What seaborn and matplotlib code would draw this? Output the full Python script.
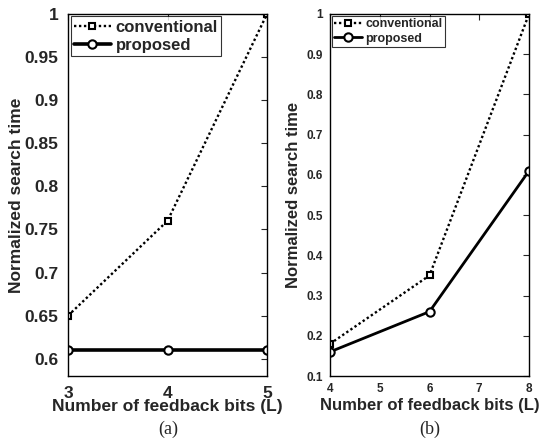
import numpy as np
import pandas as pd
import matplotlib
matplotlib.use("Agg")
import matplotlib.pyplot as plt
import seaborn as sns

# panel (a)
bits_a = [3, 4, 5]
conv_a = [0.65, 0.76, 1.0]
prop_a = [0.61, 0.61, 0.61]

# panel (b)
bits_b = [4, 6, 8]
conv_b = [0.18, 0.35, 1.0]
prop_b = [0.16, 0.26, 0.61]

sns.set_style("white")
plt.rcParams['font.family'] = ['Liberation Sans', 'DejaVu Sans']
plt.rcParams['font.weight'] = 'bold'

fig = plt.figure(figsize=(5.51, 4.44), dpi=100)
ax_a = fig.add_axes([68 / 551, 68 / 444, 199 / 551, 362 / 444])
ax_b = fig.add_axes([330 / 551, 68 / 444, 199 / 551, 362 / 444])


def draw_panel(ax, bits, conv, prop, lw_prop, tick_fs, lab_fs, leg_fs,
               tick_pad, xlab_pad, ylab_pad):
    df = pd.DataFrame({'bits': bits, 'conv': conv, 'prop': prop})
    sns.lineplot(data=df, x='bits', y='conv', ax=ax, color='black',
                 linestyle=(0, (1, 1.1)), linewidth=1.7, marker='s', markersize=5,
                 markerfacecolor='white', markeredgecolor='black',
                 markeredgewidth=1.5, label='conventional')
    sns.lineplot(data=df, x='bits', y='prop', ax=ax, color='black',
                 linestyle='-', linewidth=lw_prop, marker='o', markersize=6,
                 markerfacecolor='white', markeredgecolor='black',
                 markeredgewidth=1.5, label='proposed')
    ax.set_xlabel('Number of feedback bits (L)', fontsize=lab_fs,
                  fontweight='bold', labelpad=xlab_pad)
    ax.set_ylabel('Normalized search time', fontsize=lab_fs,
                  fontweight='bold', labelpad=ylab_pad)
    ax.tick_params(direction='in', top=True, right=True, length=4,
                   width=0.8, labelsize=tick_fs, pad=tick_pad)
    for lbl in ax.get_xticklabels() + ax.get_yticklabels():
        lbl.set_fontweight('bold')
    for s in ax.spines.values():
        s.set_color('black')
        s.set_linewidth(1.0)
    leg = ax.legend(loc='upper left', fontsize=leg_fs, frameon=True,
                    fancybox=False, borderaxespad=0.15, handlelength=2.2,
                    borderpad=0.2, labelspacing=0.2, handletextpad=0.3)
    leg.get_frame().set_edgecolor('black')
    leg.get_frame().set_linewidth(0.8)
    for t in leg.get_texts():
        t.set_fontweight('bold')


draw_panel(ax_a, bits_a, conv_a, prop_a, 2.6, 12.5, 12.5, 12, 7, -1, 0)
ax_a.set_xlim(3, 5)
ax_a.set_xticks([3, 4, 5])
ax_a.set_ylim(0.58, 1.0)
ax_a.set_yticks([0.6, 0.65, 0.7, 0.75, 0.8, 0.85, 0.9, 0.95, 1.0])
ax_a.set_yticklabels(['0.6', '0.65', '0.7', '0.75', '0.8', '0.85', '0.9', '0.95', '1'])

draw_panel(ax_b, bits_b, conv_b, prop_b, 2.0, 8.5, 12, 9, 5, 2, 4)
ax_b.set_xlim(4, 8)
ax_b.set_xticks([4, 5, 6, 7, 8])
ax_b.set_ylim(0.1, 1.0)
ax_b.set_yticks([0.1, 0.2, 0.3, 0.4, 0.5, 0.6, 0.7, 0.8, 0.9, 1.0])
ax_b.set_yticklabels(['0.1', '0.2', '0.3', '0.4', '0.5', '0.6', '0.7', '0.8', '0.9', '1'])

fig.text(168 / 551, 1 - 429 / 444, '(a)', family='Liberation Serif',
         fontweight='normal', fontsize=13, ha='center', va='center')
fig.text(430 / 551, 1 - 429 / 444, '(b)', family='Liberation Serif',
         fontweight='normal', fontsize=13, ha='center', va='center')

fig.savefig('out.png', dpi=100)
